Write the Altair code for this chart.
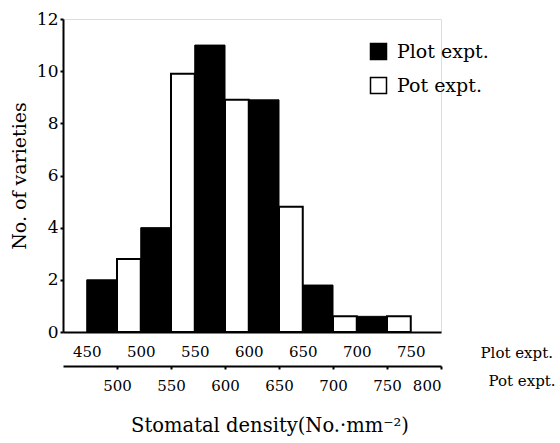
import altair as alt
import pandas as pd

# Histogram counts (No. of varieties)
plot_bins = [450, 500, 550, 600, 650, 700]          # Plot expt. bin starts
plot_counts = [2, 4, 11, 8.9, 1.8, 0.6]
pot_bins = [500, 550, 600, 650, 700, 750]           # Pot expt. bin starts
pot_counts = [2.8, 9.9, 8.9, 4.8, 0.6, 0.6]
plot_ticks = [450, 500, 550, 600, 650, 700, 750]
pot_ticks = [500, 550, 600, 650, 700, 750, 800]
y_ticks = [0, 2, 4, 6, 8, 10, 12]

BIN = 50
SHIFT = 22  # Plot expt. scale is drawn offset against the Pot expt. scale
FONT = "DejaVu Serif"

plot_df = pd.DataFrame({
    "start": plot_bins,
    "end": [b + BIN - SHIFT for b in plot_bins],
    "count": plot_counts,
    "expt": ["Plot expt."] * len(plot_bins),
})
pot_df = pd.DataFrame({
    "start": pot_bins,
    "end": [b + SHIFT for b in pot_bins],
    "count": pot_counts,
    "expt": ["Pot expt."] * len(pot_bins),
})

color = alt.Color(
    "expt:N",
    scale=alt.Scale(domain=["Plot expt.", "Pot expt."], range=["black", "white"]),
    legend=alt.Legend(
        title=None, orient="none", legendX=306, legendY=23,
        symbolType="square", symbolSize=256, symbolStrokeColor="black",
        symbolStrokeWidth=1.5, symbolOpacity=1,
        labelFont=FONT, labelFontSize=19, labelOffset=9, rowPadding=11,
        padding=0, labelColor="black",
    ),
)

yenc = alt.Y(
    "count:Q",
    scale=alt.Scale(domain=[0, 12], nice=False),
    axis=alt.Axis(
        values=y_ticks, title="No. of varieties", titleFont=FONT,
        titleFontSize=19, titleFontWeight="normal", titlePadding=7,
        labelFont=FONT, labelFontSize=17, labelPadding=2, labelColor="black",
        domainColor="black", domainWidth=2, tickColor="black", tickWidth=2,
        tickSize=3, grid=False, titleColor="black",
    ),
)

pot_layer = alt.Chart(pot_df).mark_bar(stroke="black", strokeWidth=2).encode(
    x=alt.X(
        "start:Q",
        scale=alt.Scale(domain=[450, 800], nice=False, zero=False),
        axis=alt.Axis(
            orient="bottom", offset=34, values=pot_ticks, format="d",
            labelFont=FONT, labelFontSize=15, labelPadding=9, labelColor="black",
            domainColor="black", domainWidth=2, tickColor="black", tickWidth=2,
            tickSize=3, grid=False,
            title="Pot expt.", titleFont=FONT, titleFontSize=15,
            titleFontWeight="normal", titleColor="black",
            titleX=425, titleY=14, titleAlign="left", titleBaseline="middle",
            titleAngle=0,
        ),
    ),
    x2="end:Q",
    y=yenc,
    y2=alt.datum(0),
    color=color,
)

plot_layer = alt.Chart(plot_df).mark_bar(stroke="black", strokeWidth=1).encode(
    x=alt.X(
        "start:Q",
        scale=alt.Scale(domain=[450 - SHIFT, 800 - SHIFT], nice=False, zero=False),
        axis=alt.Axis(
            orient="bottom", offset=0, values=plot_ticks, format="d",
            labelFont=FONT, labelFontSize=15, labelPadding=12, labelColor="black",
            domainColor="black", domainWidth=2, ticks=False, grid=False,
            title="Plot expt.", titleFont=FONT, titleFontSize=15,
            titleFontWeight="normal", titleColor="black",
            titleX=417, titleY=20, titleAlign="left", titleBaseline="middle",
            titleAngle=0,
        ),
    ),
    x2="end:Q",
    y=yenc,
    y2=alt.datum(0),
    color=color,
)

chart = alt.layer(pot_layer, plot_layer).resolve_scale(x="independent").properties(
    width=378,
    height=313,
    autosize=alt.AutoSizeParams(type="none"),
    padding={"left": 63, "top": 19, "right": 119, "bottom": 111},
    title=alt.TitleParams(
        text="Stomatal density(No.·mm⁻²)", orient="bottom", anchor="middle",
        font=FONT, fontSize=19.5, fontWeight="normal", offset=24, dx=18,
        color="black",
    ),
).configure_view(stroke="transparent").configure(background="white")

chart.save("out.html", embed_options={"renderer": "svg", "actions": False})
